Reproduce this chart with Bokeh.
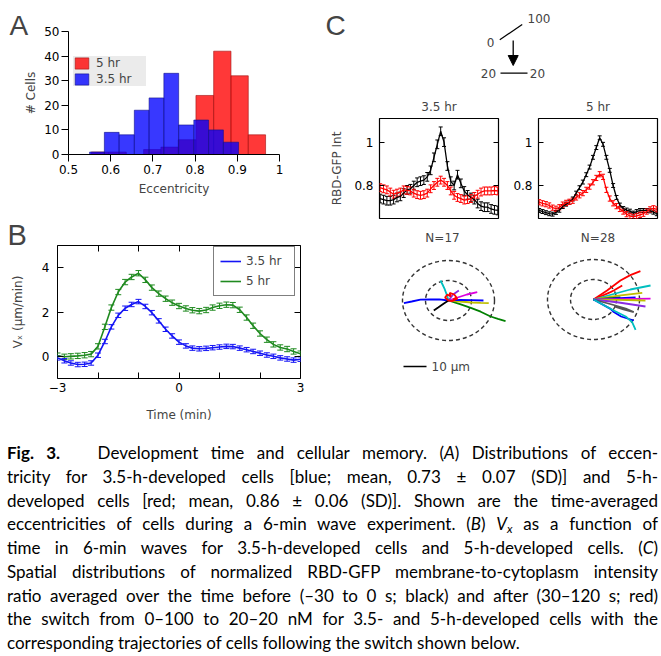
from bokeh.plotting import figure
from bokeh.models import (Range1d, FixedTicker, LinearAxis, Legend, LegendItem, Label,
                          Whisker, TeeHead, ColumnDataSource, Div, Arrow, NormalHead, NoOverlap)
from bokeh.layouts import row, column
from bokeh.embed import file_html
from bokeh.resources import INLINE

FONT = "DejaVu Sans"
LFONT = "Liberation Sans"

# ---------------- Panel A data: eccentricity histograms ----------------
ecc_blue_edges = [0.550, 0.585, 0.620, 0.656, 0.691, 0.726, 0.761, 0.797, 0.832, 0.867, 0.903]
ecc_blue_counts = [1, 9, 8, 18, 23, 33, 12, 14, 10, 5]
ecc_red_edges = [0.554, 0.595, 0.637, 0.678, 0.719, 0.760, 0.802, 0.844, 0.885, 0.926, 0.967]
ecc_red_counts = [1, 1, 0, 2, 3, 6, 24, 42, 32, 8]
ecc_ticks = [0.5, 0.6, 0.7, 0.8, 0.9, 1.0]
ecc_tick_labels = ["0.5", "0.6", "0.7", "0.8", "0.9", "1"]
cells_ticks = [0, 10, 20, 30, 40, 50]

# ---------------- Panel B data: Vx vs time ----------------
time_min = [-3.00, -2.83, -2.67, -2.50, -2.33, -2.17, -2.00, -1.83, -1.67, -1.50, -1.33, -1.17,
            -1.00, -0.83, -0.67, -0.50, -0.33, -0.17, 0.00, 0.17, 0.33, 0.50, 0.67, 0.83,
            1.00, 1.17, 1.33, 1.50, 1.67, 1.83, 2.00, 2.17, 2.33, 2.50, 2.67, 2.83, 3.00]
vx_35hr = [-0.07, -0.20, -0.30, -0.37, -0.36, -0.30, 0.05, 0.67, 1.33, 1.85, 2.17, 2.34,
           2.47, 2.25, 1.97, 1.60, 1.22, 0.92, 0.64, 0.47, 0.37, 0.34, 0.36, 0.39,
           0.42, 0.45, 0.44, 0.37, 0.30, 0.22, 0.14, 0.06, 0.00, -0.07, -0.12, -0.17, -0.13]
vx_5hr = [0.03, -0.02, 0.00, 0.02, 0.05, 0.10, 0.45, 1.33, 2.20, 2.90, 3.35, 3.58,
          3.75, 3.45, 3.10, 2.83, 2.60, 2.42, 2.27, 2.16, 2.08, 2.04, 2.09, 2.20,
          2.28, 2.33, 2.31, 2.10, 1.75, 1.38, 1.03, 0.75, 0.54, 0.40, 0.33, 0.22, 0.12]
vx_35hr_err = 0.10
vx_5hr_err = 0.12
time_ticks = [-3, -2, -1, 0, 1, 2, 3]
time_tick_labels = ["\u22123", "\u22122", "\u22121", "0", "1", "2", "3"]
vx_ticks = [0, 2, 4]

# ---------------- Panel C data: RBD-GFP intensity profiles ----------------
perimeter_bin = list(range(36))
int35_before = [0.740, 0.735, 0.730, 0.730, 0.735, 0.745, 0.750, 0.765, 0.780, 0.785, 0.800, 0.815,
                0.820, 0.825, 0.840, 0.870, 0.930, 0.990, 1.050, 1.000, 0.890, 0.820, 0.800, 0.850,
                0.810, 0.775, 0.757, 0.745, 0.735, 0.717, 0.705, 0.700, 0.700, 0.692, 0.688, 0.685]
int35_after = [0.790, 0.785, 0.780, 0.770, 0.760, 0.765, 0.770, 0.780, 0.778, 0.775, 0.765, 0.758,
               0.755, 0.758, 0.765, 0.785, 0.800, 0.815, 0.825, 0.815, 0.800, 0.775, 0.755, 0.745,
               0.740, 0.733, 0.735, 0.740, 0.750, 0.760, 0.770, 0.775, 0.775, 0.775, 0.777, 0.775]
int5_before = [0.685, 0.680, 0.675, 0.670, 0.668, 0.676, 0.686, 0.703, 0.714, 0.723, 0.738, 0.765,
               0.790, 0.816, 0.850, 0.885, 0.930, 0.975, 1.020, 0.990, 0.930, 0.870, 0.800, 0.745,
               0.710, 0.694, 0.687, 0.682, 0.673, 0.680, 0.685, 0.685, 0.685, 0.683, 0.677, 0.670]
int5_after = [0.723, 0.718, 0.714, 0.708, 0.698, 0.693, 0.700, 0.712, 0.720, 0.725, 0.730, 0.745,
              0.755, 0.765, 0.780, 0.795, 0.815, 0.835, 0.852, 0.840, 0.780, 0.740, 0.718, 0.705,
              0.692, 0.680, 0.668, 0.660, 0.655, 0.660, 0.665, 0.670, 0.680, 0.690, 0.695, 0.690]
int35_before_err = 0.020
int35_after_err = 0.018
int5_before_err = 0.009
int5_after_err = 0.012
int_ticks = [0.8, 1.0]
int_tick_labels = ["0.8", "1"]

# ---------------- Panel C data: trajectories (um), switch schematic ----------------
ring_radii_um = [10, 20]
scale_bar_um = 10
traj_17 = [
    ("#0000ff", [0, -4.0, -7.8, -12.2, -16.0, -19.4], [0, 0.6, 0.5, 0.4, -0.5, -1.3]),
    ("#008000", [0, 5.0, 10.0, 14.0, 18.3, 21.5, 24.8], [0, -1.8, -3.8, -5.6, -8.0, -9.2, -10.3]),
    ("#bfbf00", [0, 5.0, 10.0, 14.0, 17.5], [0, -0.5, -1.0, -1.2, -1.35]),
    ("#0000ff", [0, 5.0, 10.0, 15.2], [0, 0.3, 0.2, 0.0]),
    ("#dd00dd", [0, 4.0, 8.0, 12.5], [0, 1.5, 3.0, 4.2]),
    ("#8a2be2", [0, 2.0, 4.5], [0, 3.0, 5.0]),
    ("#00bfbf", [0, -0.8, -1.7, -2.6, -3.5], [0, 3.0, 5.8, 8.0, 10.0]),
    ("#000000", [0, -2.0, -4.5, -6.4], [0, -1.5, -3.5, -5.0]),
    ("#ff0000", [0, -1.5, -0.5, 1.0, 0.5, 2.5, 3.5, 2.0, 4.0, 1.5, 0.0], [0, 1.5, 3.0, 2.0, 3.8, 3.0, 1.5, 0.5, 1.0, -0.3, 0.0]),
]
traj_28 = [
    ("#ff0000", [0, 5.9, 11.7, 16.0, 20.4], [0, 4.5, 9.5, 12.2, 14.2]),
    ("#ff0000", [0, 7.4, 8.8, 12.5], [0, 3.7, 4.5, 7.0]),
    ("#00bfbf", [0, 8.0, 16.0, 24.8], [0, 2.5, 5.0, 7.0]),
    ("#bfbf00", [0, 10.0, 21.2], [0, 1.8, 3.3]),
    ("#008000", [0, 6.0, 11.7], [0, 0.6, 1.1]),
    ("#0000ff", [0, 9.0, 18.3], [0, 0.5, 1.1]),
    ("#dd00dd", [0, 12.0, 24.8], [0, 0.2, 0.4]),
    ("#bfbf00", [0, 11.0, 22.6], [0, -0.2, -0.5]),
    ("#8a2be2", [0, 11.0, 22.6], [0, -1.5, -3.5]),
    ("#555555", [0, 8.0, 14.0, 17.5, 13.0, 9.0, 15.0], [0, -2.5, -4.5, -6.3, -5.0, -3.5, -5.5]),
    ("#0000ff", [0, 7.4, 8.8, 12.0, 17.5], [0, -4.7, -6.3, -8.5, -10.5]),
    ("#00bfbf", [0, 8.8, 14.0, 16.8, 18.3], [0, -5.5, -8.5, -11.3, -15.2]),
]

BLUE = "#1414f5"
GREEN = "#1f8a1f"


def mkfig(w, h, xr, yr, bl, br, bt, bb, axes=True):
    kw = {} if axes else dict(x_axis_location=None, y_axis_location=None)
    p = figure(width=w, height=h, x_range=xr, y_range=yr, output_backend="svg",
               toolbar_location=None, min_border_left=bl, min_border_right=br,
               min_border_top=bt, min_border_bottom=bb, **kw)
    p.margin = 0
    try:
        p.frame_align = False
    except Exception:
        pass
    p.grid.visible = False
    p.outline_line_color = None
    p.background_fill_color = "white"
    p.border_fill_color = "white"
    return p


def style_axis(ax, tin, tout, standoff, label_standoff=5):
    ax.axis_line_color = "black"
    ax.major_tick_line_color = "black"
    ax.major_tick_in = tin
    ax.major_tick_out = tout
    ax.minor_tick_in = 0
    ax.minor_tick_out = 0
    ax.major_label_standoff = standoff
    ax.major_label_text_font = FONT
    ax.major_label_text_font_size = "12px"
    ax.major_label_text_color = "black"
    ax.axis_label_text_font = FONT
    ax.axis_label_text_font_size = "12px"
    ax.axis_label_text_font_style = "normal"
    ax.axis_label_standoff = label_standoff


def inner_axis(ticks, tin):
    return LinearAxis(ticker=FixedTicker(ticks=ticks), major_tick_in=tin, major_tick_out=0,
                      minor_tick_in=0, minor_tick_out=0, axis_line_color=None,
                      major_label_text_font_size="1px", major_label_text_color=None,
                      major_label_standoff=0)


def panel_letter(p, text, size, offset, standoff):
    p.title.text = text
    p.title.text_font = LFONT
    p.title.text_font_size = size
    p.title.text_font_style = "normal"
    p.title.align = "left"
    p.title.offset = offset
    p.title.standoff = standoff


# ================= Panel A =================
pA = mkfig(320, 200, Range1d(0.5, 1.0), Range1d(0, 50), 68, 41, 31, 46)
rA_red = pA.quad(left=ecc_red_edges[:-1], right=ecc_red_edges[1:], top=ecc_red_counts, bottom=0,
                 fill_color="#ff0000", fill_alpha=0.78, line_color="#a01010", line_alpha=0.6)
rA_blue = pA.quad(left=ecc_blue_edges[:-1], right=ecc_blue_edges[1:], top=ecc_blue_counts, bottom=0,
                  fill_color="#0000ff", fill_alpha=0.78, line_color="#10108a", line_alpha=0.6)
pA.xaxis.ticker = FixedTicker(ticks=ecc_ticks)
pA.xaxis.major_label_overrides = dict(zip(ecc_ticks, ecc_tick_labels))
pA.yaxis.ticker = FixedTicker(ticks=cells_ticks)
style_axis(pA.xaxis[0], 0, 7, 3, 5)
style_axis(pA.yaxis[0], 0, 7, 2, 3)
pA.xaxis.axis_label = "Eccentricity"
pA.yaxis.axis_label = "# Cells"
legA = Legend(items=[LegendItem(label="5 hr", renderers=[rA_red]),
                     LegendItem(label="3.5 hr", renderers=[rA_blue])],
              location=(5, 68), background_fill_color="#ebebeb", background_fill_alpha=1.0,
              border_line_color=None, label_text_font=FONT, label_text_font_size="12px",
              glyph_width=17, glyph_height=14, spacing=2, padding=5, label_standoff=6, margin=0,
              label_height=14, label_width=50)
pA.add_layout(legA)
panel_letter(pA, "A", "28px", -59, -19)

# ================= Panel B =================
pB = mkfig(320, 241, Range1d(-3, 3), Range1d(-1, 5), 57, 20, 45, 63)
pB.outline_line_color = "black"
pB.outline_line_width = 1
src35 = ColumnDataSource(dict(t=time_min, v=vx_35hr,
                              up=[v + vx_35hr_err for v in vx_35hr], lo=[v - vx_35hr_err for v in vx_35hr]))
src5 = ColumnDataSource(dict(t=time_min, v=vx_5hr,
                             up=[v + vx_5hr_err for v in vx_5hr], lo=[v - vx_5hr_err for v in vx_5hr]))
for src, col in ((src5, GREEN), (src35, BLUE)):
    pB.add_layout(Whisker(source=src, base="t", upper="up", lower="lo", line_color=col, line_width=1,
                          upper_head=TeeHead(size=6, line_color=col, line_width=1),
                          lower_head=TeeHead(size=6, line_color=col, line_width=1)))
l5 = pB.line("t", "v", source=src5, line_color=GREEN, line_width=1.6)
l35 = pB.line("t", "v", source=src35, line_color=BLUE, line_width=1.6)
pB.xaxis.ticker = FixedTicker(ticks=time_ticks)
pB.xaxis.major_label_overrides = dict(zip(time_ticks, time_tick_labels))
pB.xaxis.major_label_policy = NoOverlap(min_distance=95)
pB.yaxis.ticker = FixedTicker(ticks=vx_ticks)
style_axis(pB.xaxis[0], 6, 0, 4, 13)
style_axis(pB.yaxis[0], 6, 0, 8, 14)
pB.xaxis.axis_line_color = None
pB.yaxis.axis_line_color = None
pB.xaxis.axis_label = "Time (min)"
pB.yaxis.axis_label = "V\u2093 (\u03bcm/min)"
pB.add_layout(inner_axis(time_ticks, 6), "above")
pB.add_layout(inner_axis(vx_ticks, 6), "right")
legB = Legend(items=[LegendItem(label="3.5 hr", renderers=[l35]), LegendItem(label="5 hr", renderers=[l5])],
              location=(156, 82), background_fill_color="white", background_fill_alpha=1.0,
              border_line_color="black", border_line_width=1, label_text_font=FONT,
              label_text_font_size="12px", glyph_width=21, glyph_height=16, label_height=16,
              spacing=4, padding=6, label_standoff=5, margin=0, label_width=42)
pB.add_layout(legB)
panel_letter(pB, "B", "29px", -50, -11)

# ================= Panel C: schematic =================
pD = mkfig(340, 92, Range1d(0, 340), Range1d(92, 0), 0, 0, 0, 0, axes=False)
pD.add_layout(Label(x=5, y=25, text="C", text_font=LFONT, text_font_size="28px", text_baseline="middle"))
before_lo, before_hi = "0", "100"
after_lo, after_hi = "20", "20"
pD.segment(x0=[179.3, 180], y0=[39.3, 72.7], x1=[201.7, 207], y1=[24, 72.7], line_color="black", line_width=1.2)
pD.add_layout(Arrow(end=NormalHead(size=10, fill_color="black", line_color="black"),
                    x_start=192.7, y_start=40, x_end=192.7, y_end=65, line_color="black", line_width=1.3))
for (tx, ty, tt, al) in ((170, 42, before_lo, "center"), (207, 18, before_hi, "left"),
                         (168, 73, after_lo, "center"), (217, 73, after_hi, "center")):
    pD.add_layout(Label(x=tx, y=ty, text=tt, text_font=FONT, text_font_size="12px",
                        text_align=al, text_baseline="middle"))


# ================= Panel C: intensity profiles =================
def intensity_fig(w, bl, br, title, before, after, eb, ea, ylabel=None):
    p = mkfig(w, 130, Range1d(-0.2, 35.2), Range1d(0.648, 1.109), bl, br, 26, 4)
    p.xaxis.visible = False
    p.outline_line_color = "black"
    p.outline_line_width = 1.2
    p.title.text = title
    p.title.text_font = FONT
    p.title.text_font_size = "12px"
    p.title.text_font_style = "normal"
    p.title.align = "center"
    for vals, err, col in ((before, eb, "black"), (after, ea, "#ff0000")):
        s = ColumnDataSource(dict(x=perimeter_bin, v=vals, up=[v + err for v in vals], lo=[v - err for v in vals]))
        p.add_layout(Whisker(source=s, base="x", upper="up", lower="lo", line_color=col, line_width=1,
                             upper_head=TeeHead(size=4, line_color=col, line_width=1),
                             lower_head=TeeHead(size=4, line_color=col, line_width=1)))
        p.line("x", "v", source=s, line_color=col, line_width=1.3)
    p.yaxis.ticker = FixedTicker(ticks=int_ticks)
    p.yaxis.major_label_overrides = dict(zip(int_ticks, int_tick_labels))
    style_axis(p.yaxis[0], 5, 0, 6, 7)
    p.yaxis.axis_line_color = None
    if ylabel:
        p.yaxis.axis_label = ylabel
    p.add_layout(inner_axis(int_ticks, 5), "right")
    return p


pI1 = intensity_fig(180, 59, 2, "3.5 hr", int35_before, int35_after, int35_before_err, int35_after_err, "RBD-GFP Int")
pI2 = intensity_fig(160, 38, 3, "5 hr", int5_before, int5_after, int5_before_err, int5_after_err)

# ================= Panel C: trajectories =================
SX, SY = 2.3, 2.0   # px per um
TOP, BOT = 222, 441


def traj_fig(w, page_x0, origin_px, origin_py, title, trajs, bar=False):
    xr = Range1d((page_x0 - origin_px) / SX, (page_x0 + w - origin_px) / SX)
    yr = Range1d((origin_py - BOT) / SY, (origin_py - TOP) / SY)
    p = mkfig(w, BOT - TOP, xr, yr, 0, 0, 0, 0, axes=False)
    for r in ring_radii_um:
        p.ellipse(x=0, y=0, width=2 * r, height=2 * r, fill_color=None, line_color="#333333",
                  line_dash="4 3", line_width=1.4)
    for col, xs, ys in trajs:
        p.line(xs, ys, line_color=col, line_width=1.8)
    p.add_layout(Label(x=(title[1] - origin_px) / SX, y=(origin_py - 237) / SY, text=title[0],
                       text_font=FONT, text_font_size="12px", text_align="center", text_baseline="middle"))
    if bar:
        bx, by = (403 - origin_px) / SX, (origin_py - 366) / SY
        p.segment(x0=[bx], y0=[by], x1=[bx + scale_bar_um], y1=[by], line_color="black", line_width=1.5)
        p.add_layout(Label(x=bx + scale_bar_um + 2.2, y=by, text="10 \u03bcm", text_font=FONT,
                           text_font_size="12px", text_baseline="middle"))
    return p


pT1 = traj_fig(190, 320, 448, 300, ("N=17", 442), traj_17, bar=True)
pT2 = traj_fig(150, 510, 593, 299, ("N=28", 597.5), traj_28)

# ================= Caption =================
cap_lines = [
    "<b>Fig. 3.</b>&nbsp;&nbsp; Development time and cellular memory. (<i>A</i>) Distributions of eccen-",
    "tricity for 3.5-h-developed cells [blue; mean, 0.73 \u00b1 0.07 (SD)] and 5-h-",
    "developed cells [red; mean, 0.86 \u00b1 0.06 (SD)]. Shown are the time-averaged",
    "eccentricities of cells during a 6-min wave experiment. (<i>B</i>) <i>V<sub style='font-size:70%;line-height:0;vertical-align:-0.25em'>x</sub></i> as a function of",
    "time in 6-min waves for 3.5-h-developed cells and 5-h-developed cells. (<i>C</i>)",
    "Spatial distributions of normalized RBD-GFP membrane-to-cytoplasm intensity",
    "ratio averaged over the time before (\u201330 to 0 s; black) and after (30\u2013120 s; red)",
    "the switch from 0\u2013100 to 20\u201320 nM for 3.5- and 5-h-developed cells with the",
    "corresponding trajectories of cells following the switch shown below.",
]
LH = 23.75
parts = []
for i, ln in enumerate(cap_lines):
    last = "left" if i == len(cap_lines) - 1 else "justify"
    parts.append(f"<div style='height:{LH}px;line-height:{LH}px;text-align:justify;"
                 f"text-align-last:{last};overflow:visible'>{ln}</div>")
cap_html = ("<div style=\"margin-left:7px;width:651px;font-family:'Lato';font-size:17px;color:#000\">"
            + "".join(parts) + "</div>")
caption = Div(text=cap_html, width=660, height=214, margin=0)

layout = column(
    row(column(pA, pB, spacing=0),
        column(pD, row(pI1, pI2, spacing=0), row(pT1, pT2, spacing=0), spacing=0),
        spacing=0),
    caption, spacing=0)

open("out.html", "w").write(file_html(layout, INLINE, title="Fig. 3"))
